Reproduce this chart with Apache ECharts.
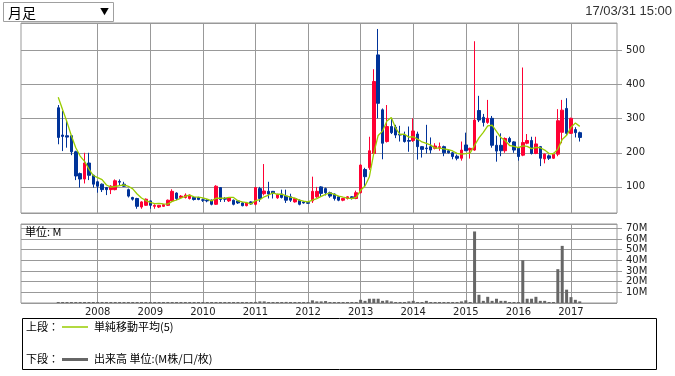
<!DOCTYPE html>
<html><head><meta charset="utf-8">
<script src="https://cdn.jsdelivr.net/npm/echarts@6.0.0/dist/echarts.min.js"></script>
<style>html,body{margin:0;padding:0;background:#fff}#c{width:675px;height:376px}</style>
</head><body><div id="c"></div>
<script>
const categories = [
'2006/08','2006/09','2006/10','2006/11','2006/12',
'2007/01','2007/02','2007/03','2007/04','2007/05','2007/06','2007/07','2007/08','2007/09','2007/10','2007/11','2007/12',
'2008/01','2008/02','2008/03','2008/04','2008/05','2008/06','2008/07','2008/08','2008/09','2008/10','2008/11','2008/12',
'2009/01','2009/02','2009/03','2009/04','2009/05','2009/06','2009/07','2009/08','2009/09','2009/10','2009/11','2009/12',
'2010/01','2010/02','2010/03','2010/04','2010/05','2010/06','2010/07','2010/08','2010/09','2010/10','2010/11','2010/12',
'2011/01','2011/02','2011/03','2011/04','2011/05','2011/06','2011/07','2011/08','2011/09','2011/10','2011/11','2011/12',
'2012/01','2012/02','2012/03','2012/04','2012/05','2012/06','2012/07','2012/08','2012/09','2012/10','2012/11','2012/12',
'2013/01','2013/02','2013/03','2013/04','2013/05','2013/06','2013/07','2013/08','2013/09','2013/10','2013/11','2013/12',
'2014/01','2014/02','2014/03','2014/04','2014/05','2014/06','2014/07','2014/08','2014/09','2014/10','2014/11','2014/12',
'2015/01','2015/02','2015/03','2015/04','2015/05','2015/06','2015/07','2015/08','2015/09','2015/10','2015/11','2015/12',
'2016/01','2016/02','2016/03','2016/04','2016/05','2016/06','2016/07','2016/08','2016/09','2016/10','2016/11','2016/12',
'2017/01','2017/02','2017/03','2017/04','2017/05','2017/06','2017/07','2017/08','2017/09','2017/10','2017/11'
];
const firstDataMonth = '2007/04';

const opens = [
332,252,250,250,203,139,123,170,134,115,
108,98,92,92,116,108,92,69,66,41,
46,59,43,41,43,46,59,82,69,69,
66,69,69,62,61,61,49,98,66,59,
61,59,53,45,56,49,95,80,87,87,
68,79,73,71,56,61,56,54,59,71,
100,95,83,79,71,61,66,71,66,83,
151,156,198,487,326,233,277,275,254,252,
236,236,255,218,214,218,213,215,218,206,
200,190,184,223,208,208,324,304,289,301,
222,222,206,242,232,213,193,228,236,198,
218,182,191,184,196,260,330,257,268,259
];
const highs = [
340,323,295,252,206,142,200,200,136,118,
110,100,105,122,122,115,95,71,68,58,
66,60,49,47,50,63,93,84,76,81,
78,72,71,66,64,63,105,99,70,70,
63,61,55,56,58,100,100,167,115,88,
80,92,92,80,68,63,58,56,130,100,
102,98,86,81,73,68,73,73,89,166,
156,247,445,563,330,340,301,282,279,262,
277,301,262,220,282,245,228,230,221,208,
203,195,233,259,215,527,367,314,355,308,
250,257,245,247,234,215,450,255,247,247,
220,198,195,200,328,355,360,303,275,262
];
const lows = [
225,205,215,193,120,98,110,120,98,83,
85,76,79,90,105,100,69,60,36,36,
44,36,36,38,41,44,56,61,66,66,
63,60,61,56,55,46,47,56,56,56,
46,50,43,43,48,46,56,75,66,66,
65,66,53,56,54,46,51,50,53,68,
71,75,68,60,58,58,63,63,64,81,
100,150,196,301,181,230,255,243,233,230,
203,232,180,186,198,198,210,206,190,198,
181,178,177,205,183,206,290,277,285,215,
174,190,200,228,200,177,190,225,195,196,
161,169,179,182,190,228,252,255,245,233
];
const closes = [
245,248,246,203,132,123,170,134,108,102,
92,92,102,118,114,102,73,64,43,56,
64,46,46,46,48,61,87,66,73,76,
76,63,63,61,59,49,102,63,64,68,
49,53,45,53,50,98,66,88,79,81,
78,69,61,61,66,49,53,52,87,87,
81,83,73,66,61,66,71,66,83,164,
130,206,409,345,228,277,259,252,252,233,
234,264,218,210,212,208,220,218,200,200,
189,184,208,206,213,296,296,289,301,222,
205,206,242,232,208,189,230,236,198,226,
184,196,184,196,294,325,257,301,259,245
];
const sma5 = [
363,326,290,250,214.8,190.4,174.8,152.4,133.4,127.4,
121.2,105.6,99.2,101.2,103.6,105.6,101.8,94.2,79.2,67.6,
60,54.6,51,51.6,50,49.4,57.6,61.6,67,72.6,
75.6,70.8,70.2,67.8,64.4,59,66.8,66.8,67.4,69.2,
69.2,59.4,55.8,53.6,50,59.8,62.4,71,76.2,82.4,
78.4,79,73.6,70,67,61.2,58,56.2,61.4,65.6,
72,78,82.2,78,72.8,69.8,67.4,66,69.4,90,
102.8,129.8,198.4,250.8,263.6,293,303.6,272.2,253.6,254.6,
246,247,240.2,231.8,227.6,222.4,213.6,213.6,211.6,209.2,
205.4,198.2,196.2,197.4,200,221.4,243.8,260,279,280.8,
262.6,244.6,235.2,221.4,218.6,215.4,220.2,219,212.2,215.8,
214.8,208,197.6,197.2,210.8,239,251.2,274.6,287.2,277.4
];
const volumes = [
0.5,0.5,0.5,0.5,0.5,0.5,0.5,0.5,0.5,0.5,
0.5,0.5,0.5,0.5,0.5,0.5,0.5,0.5,0.5,0.5,
0.5,0.5,0.5,0.5,0.5,0.5,0.5,0.5,0.5,0.5,
0.5,0.5,0.5,0.5,0.5,0.5,0.5,0.5,0.5,0.5,
0.5,0.5,0.5,0.5,0.5,1.0,1.5,1.5,0.6,0.5,
0.5,0.5,1.0,0.5,0.5,0.5,0.5,0.5,2.5,1.5,
1.5,1.8,0.8,0.5,0.5,0.5,0.5,0.5,0.5,3.0,
2.0,4.0,4.0,4.0,2.0,2.5,1.5,0.6,0.6,0.6,
1.5,2.0,0.6,0.6,2.0,0.5,0.5,0.5,0.5,0.5,
0.5,0.5,1.5,2.5,0.6,67,7.7,2.0,5.8,2.0,
4.0,2.0,2.0,0.6,0.6,0.6,40,4.0,4.0,5.8,
2.0,2.0,0.6,0.6,31.7,53.5,12.5,5.5,3.0,1.5
];
const priceTicks = [100,200,300,400,500];
const volumeTicks = [10,20,30,40,50,60,70];

const start = categories.indexOf(firstDataMonth);
const inData = i => i - start >= 0 && i - start < closes.length;
const candleData = categories.map((c, i) => inData(i) ? [opens[i-start], closes[i-start], lows[i-start], highs[i-start]] : '-');
const smaData = categories.map((c, i) => inData(i) ? sma5[i-start] : '-');
const volData = categories.map((c, i) => inData(i) ? volumes[i-start] : '-');
const isYearStart = (v) => v.endsWith('/01') && v > firstDataMonth;

const GRID = '#999999';
const FONT = 'DejaVu Sans';
const JP = '"Noto Sans CJK JP"';

const chart = echarts.init(document.getElementById('c'), null, {renderer: 'canvas'});
const xBase = (gi, showLabel) => ({
  type: 'category', gridIndex: gi, data: categories, boundaryGap: true,
  axisLine: {show: false}, axisTick: {show: false},
  axisLabel: {show: showLabel, interval: (i, v) => isYearStart(v), formatter: v => v.slice(0,4),
    fontFamily: FONT, fontSize: 10, color: '#222', margin: 4},
  splitLine: {show: true, alignWithLabel: true, interval: (i, v) => isYearStart(v), lineStyle: {color: GRID, width: 1}}
});
chart.setOption({
  animation: false,
  grid: [
    {left: 21, right: 58, top: 23, height: 190, show: true, borderColor: GRID, borderWidth: 1, backgroundColor: '#fff'},
    {left: 21, right: 58, top: 224, height: 79, show: true, borderColor: GRID, borderWidth: 1, backgroundColor: '#fff'}
  ],
  xAxis: [xBase(0, false), xBase(1, true)],
  yAxis: [
    {type: 'value', gridIndex: 0, position: 'right', min: 23.5, max: 580.5, splitNumber: 5,
     axisLine: {show: false}, axisTick: {show: true, length: 5, lineStyle: {color: GRID}},
     axisLabel: {fontFamily: FONT, fontSize: 10, color: '#222', margin: 9, showMinLabel: false, showMaxLabel: false,
       formatter: v => priceTicks.includes(v) ? String(v) : ''},
     splitLine: {lineStyle: {color: GRID}}},
    {type: 'value', gridIndex: 1, position: 'right', min: 0, max: 74, interval: 10,
     axisLine: {show: false}, axisTick: {show: true, length: 5, lineStyle: {color: GRID}},
     axisLabel: {fontFamily: FONT, fontSize: 10, color: '#222', margin: 9, showMinLabel: false, showMaxLabel: false,
       formatter: v => volumeTicks.includes(v) ? v + 'M' : ''},
     splitLine: {lineStyle: {color: GRID}}}
  ],
  series: [
    {type: 'candlestick', xAxisIndex: 0, yAxisIndex: 0, data: candleData, barWidth: 3,
     itemStyle: {color: '#ff0033', color0: '#003399', borderColor: '#ff0033', borderColor0: '#003399', borderWidth: 1}},
    {type: 'line', xAxisIndex: 0, yAxisIndex: 0, data: smaData, showSymbol: false, symbol: 'none',
     lineStyle: {color: '#99cc00', width: 1.3}, z: 5},
    {type: 'bar', xAxisIndex: 1, yAxisIndex: 1, data: volData, barWidth: 3, barMinHeight: 1,
     itemStyle: {color: '#666666'}}
  ],
  graphic: [
    {type: 'rect', shape: {x: 3.5, y: 2.5, width: 110, height: 19}, style: {fill: '#fff', stroke: '#a0a0a0', lineWidth: 1}},
    {type: 'text', x: 8, y: 12.5, style: {text: '月足', font: '14px ' + JP, fill: '#000', textVerticalAlign: 'middle'}},
    {type: 'text', x: 100, y: 12, style: {text: '▼', font: '9px ' + JP, fill: '#000', textVerticalAlign: 'middle'}},
    {type: 'text', x: 672, y: 11, style: {text: '17/03/31 15:00', font: '13px "Liberation Sans"', fill: '#333', textAlign: 'right', textVerticalAlign: 'middle'}},
    {type: 'text', x: 25, y: 232, z: 10, style: {text: '単位: M', font: '11px ' + JP, fill: '#000', textVerticalAlign: 'middle'}},
    {type: 'rect', shape: {x: 22.5, y: 318.5, width: 634, height: 51}, style: {fill: '#fff', stroke: '#000', lineWidth: 1}},
    {type: 'text', x: 26, y: 327, style: {text: '上段：', font: '11px ' + JP, fill: '#000', textVerticalAlign: 'middle'}},
    {type: 'line', shape: {x1: 62, y1: 327, x2: 88, y2: 327}, style: {stroke: '#99cc00', lineWidth: 1.5}},
    {type: 'text', x: 94, y: 327, style: {text: '単純移動平均(5)', font: '11px ' + JP, fill: '#000', textVerticalAlign: 'middle'}},
    {type: 'text', x: 26, y: 359, style: {text: '下段：', font: '11px ' + JP, fill: '#000', textVerticalAlign: 'middle'}},
    {type: 'line', shape: {x1: 62, y1: 359.5, x2: 88, y2: 359.5}, style: {stroke: '#666666', lineWidth: 3}},
    {type: 'text', x: 94, y: 359, style: {text: '出来高 単位:(M株/口/枚)', font: '11px ' + JP, fill: '#000', textVerticalAlign: 'middle'}}
  ]
});
</script>
</body></html>
